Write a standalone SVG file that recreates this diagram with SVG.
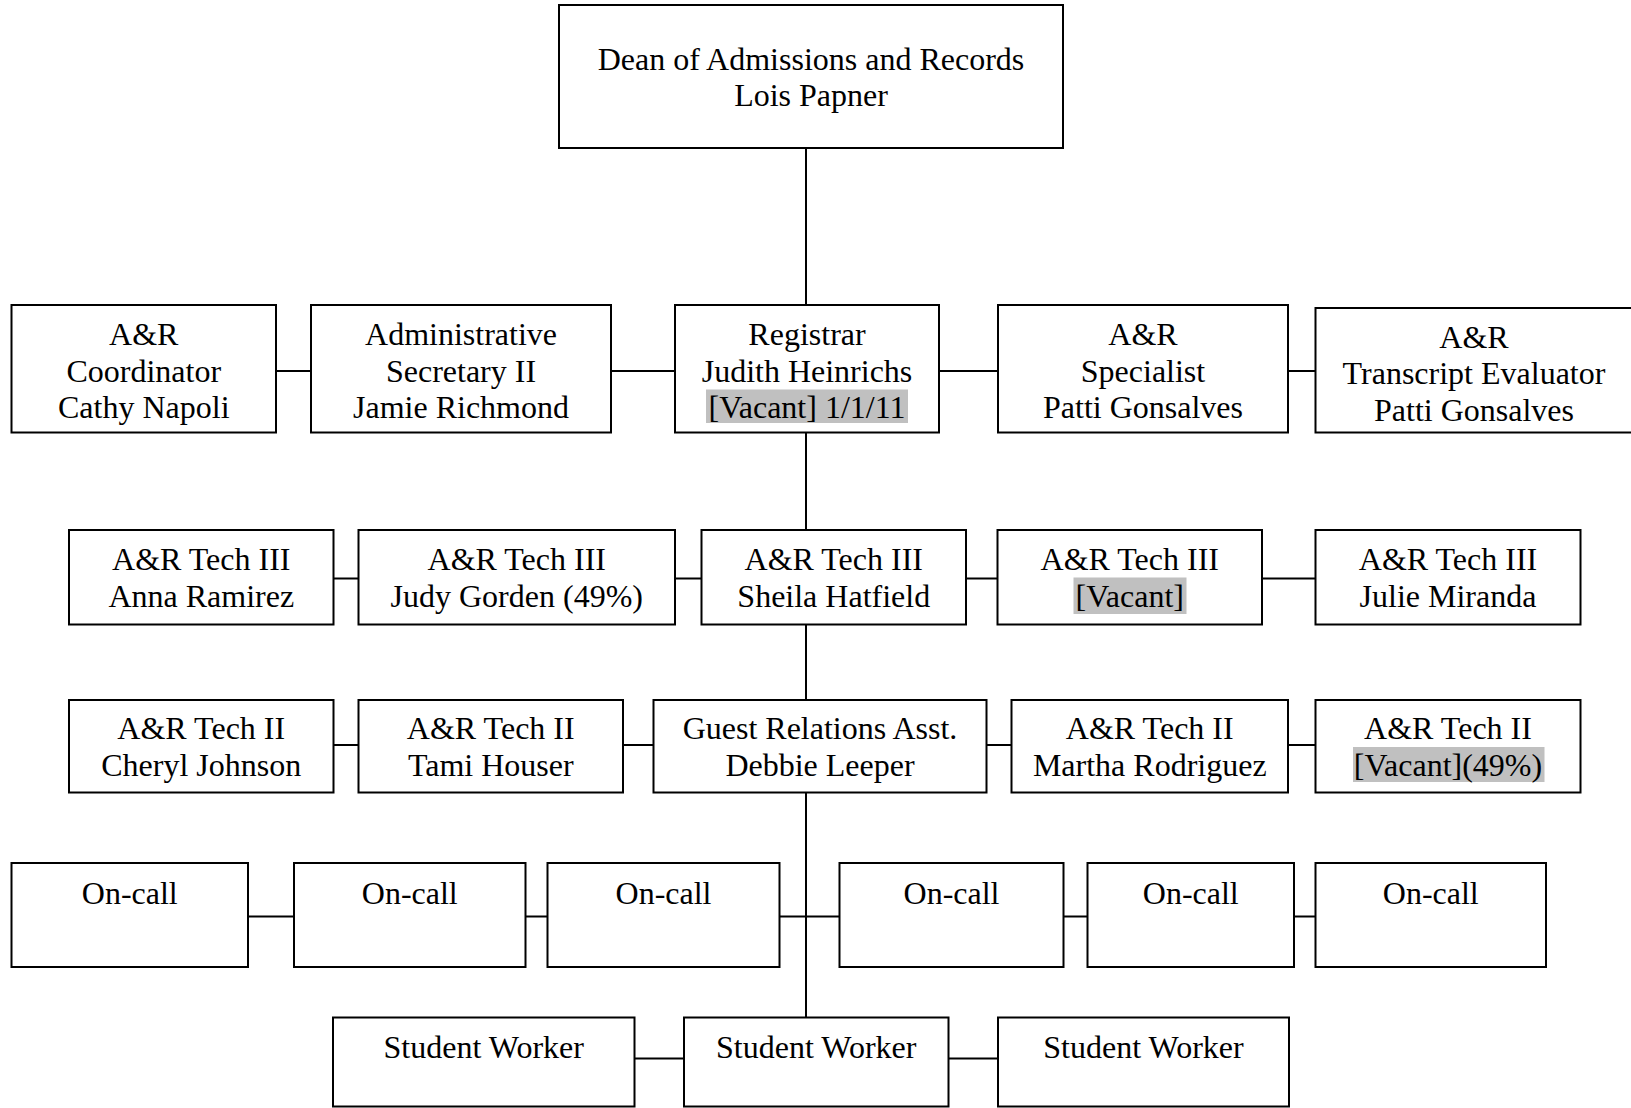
<svg xmlns="http://www.w3.org/2000/svg" width="1631" height="1108" viewBox="0 0 1631 1108">
<style>
  .box { fill: #ffffff; stroke: #000000; stroke-width: 2; }
  .hl { fill: #c0c0c0; stroke: none; }
  .lbl { font-family: "Liberation Serif", "Times New Roman", serif; font-size: 32px; fill: #000000; text-anchor: middle; }
  .conn line { stroke: #000000; stroke-width: 2; }
</style>
<rect width="1631" height="1108" fill="#ffffff"/>
<g id="connectors" class="conn">
  <line x1="806" y1="148" x2="806" y2="305"/>
  <line x1="806" y1="432.5" x2="806" y2="530"/>
  <line x1="806" y1="624.5" x2="806" y2="700"/>
  <line x1="806" y1="792.5" x2="806" y2="1017.5"/>
  <line x1="276" y1="371" x2="311" y2="371"/>
  <line x1="611" y1="371" x2="675" y2="371"/>
  <line x1="939" y1="371" x2="998" y2="371"/>
  <line x1="1288" y1="371" x2="1315.5" y2="371"/>
  <line x1="333.5" y1="578.5" x2="358.5" y2="578.5"/>
  <line x1="675" y1="578.5" x2="701.5" y2="578.5"/>
  <line x1="966" y1="578.5" x2="997.5" y2="578.5"/>
  <line x1="1262" y1="578.5" x2="1315.5" y2="578.5"/>
  <line x1="333.5" y1="745" x2="358.5" y2="745"/>
  <line x1="623" y1="745" x2="653.5" y2="745"/>
  <line x1="986.5" y1="745" x2="1011.5" y2="745"/>
  <line x1="1288" y1="745" x2="1315.5" y2="745"/>
  <line x1="248" y1="916.5" x2="294" y2="916.5"/>
  <line x1="525.5" y1="916.5" x2="547.5" y2="916.5"/>
  <line x1="779.5" y1="916.5" x2="839.5" y2="916.5"/>
  <line x1="1063.5" y1="916.5" x2="1087.5" y2="916.5"/>
  <line x1="1294" y1="916.5" x2="1315.5" y2="916.5"/>
  <line x1="634.5" y1="1058.5" x2="684" y2="1058.5"/>
  <line x1="948.5" y1="1058.5" x2="998" y2="1058.5"/>
</g>
<g id="dean">
  <rect class="box" x="559" y="5" width="504" height="143"/>
  <text class="lbl" x="811" y="70">Dean of Admissions and Records</text>
  <text class="lbl" x="811" y="106">Lois Papner</text>
</g>
<g id="coordinator">
  <rect class="box" x="11.5" y="305" width="264.5" height="127.5"/>
  <text class="lbl" x="143.75" y="345">A&amp;R</text>
  <text class="lbl" x="143.75" y="381.5">Coordinator</text>
  <text class="lbl" x="143.75" y="418">Cathy Napoli</text>
</g>
<g id="admin-secretary">
  <rect class="box" x="311" y="305" width="300" height="127.5"/>
  <text class="lbl" x="461" y="345">Administrative</text>
  <text class="lbl" x="461" y="381.5">Secretary II</text>
  <text class="lbl" x="461" y="418">Jamie Richmond</text>
</g>
<g id="registrar">
  <rect class="box" x="675" y="305" width="264" height="127.5"/>
  <rect class="hl" x="706" y="389.5" width="202" height="33.5"/>
  <text class="lbl" x="807" y="345">Registrar</text>
  <text class="lbl" x="807" y="381.5">Judith Heinrichs</text>
  <text class="lbl" x="807" y="418">[Vacant] 1/1/11</text>
</g>
<g id="specialist">
  <rect class="box" x="998" y="305" width="290" height="127.5"/>
  <text class="lbl" x="1143" y="345">A&amp;R</text>
  <text class="lbl" x="1143" y="381.5">Specialist</text>
  <text class="lbl" x="1143" y="418">Patti Gonsalves</text>
</g>
<g id="transcript-evaluator">
  <rect class="box" x="1315.5" y="308" width="318" height="124.5"/>
  <text class="lbl" x="1474" y="347.5">A&amp;R</text>
  <text class="lbl" x="1474" y="384">Transcript Evaluator</text>
  <text class="lbl" x="1474" y="420.5">Patti Gonsalves</text>
</g>
<g id="tech3-anna">
  <rect class="box" x="69" y="530" width="264.5" height="94.5"/>
  <text class="lbl" x="201.25" y="570">A&amp;R Tech III</text>
  <text class="lbl" x="201.25" y="606.5">Anna Ramirez</text>
</g>
<g id="tech3-judy">
  <rect class="box" x="358.5" y="530" width="316.5" height="94.5"/>
  <text class="lbl" x="516.75" y="570">A&amp;R Tech III</text>
  <text class="lbl" x="516.75" y="606.5">Judy Gorden (49%)</text>
</g>
<g id="tech3-sheila">
  <rect class="box" x="701.5" y="530" width="264.5" height="94.5"/>
  <text class="lbl" x="833.75" y="570">A&amp;R Tech III</text>
  <text class="lbl" x="833.75" y="606.5">Sheila Hatfield</text>
</g>
<g id="tech3-vacant">
  <rect class="box" x="997.5" y="530" width="264.5" height="94.5"/>
  <rect class="hl" x="1073.5" y="577.5" width="113" height="36.5"/>
  <text class="lbl" x="1129.75" y="570">A&amp;R Tech III</text>
  <text class="lbl" x="1129.75" y="606.5">[Vacant]</text>
</g>
<g id="tech3-julie">
  <rect class="box" x="1315.5" y="530" width="265" height="94.5"/>
  <text class="lbl" x="1448" y="570">A&amp;R Tech III</text>
  <text class="lbl" x="1448" y="606.5">Julie Miranda</text>
</g>
<g id="tech2-cheryl">
  <rect class="box" x="69" y="700" width="264.5" height="92.5"/>
  <text class="lbl" x="201.25" y="739">A&amp;R Tech II</text>
  <text class="lbl" x="201.25" y="775.5">Cheryl Johnson</text>
</g>
<g id="tech2-tami">
  <rect class="box" x="358.5" y="700" width="264.5" height="92.5"/>
  <text class="lbl" x="490.75" y="739">A&amp;R Tech II</text>
  <text class="lbl" x="490.75" y="775.5">Tami Houser</text>
</g>
<g id="guest-relations">
  <rect class="box" x="653.5" y="700" width="333" height="92.5"/>
  <text class="lbl" x="820" y="739">Guest Relations Asst.</text>
  <text class="lbl" x="820" y="775.5">Debbie Leeper</text>
</g>
<g id="tech2-martha">
  <rect class="box" x="1011.5" y="700" width="276.5" height="92.5"/>
  <text class="lbl" x="1149.75" y="739">A&amp;R Tech II</text>
  <text class="lbl" x="1149.75" y="775.5">Martha Rodriguez</text>
</g>
<g id="tech2-vacant">
  <rect class="box" x="1315.5" y="700" width="265" height="92.5"/>
  <rect class="hl" x="1353" y="747" width="191.5" height="35"/>
  <text class="lbl" x="1448" y="739">A&amp;R Tech II</text>
  <text class="lbl" x="1448" y="775.5">[Vacant](49%)</text>
</g>
<g id="oncall-1">
  <rect class="box" x="11.5" y="863" width="236.5" height="104"/>
  <text class="lbl" x="129.75" y="904">On-call</text>
</g>
<g id="oncall-2">
  <rect class="box" x="294" y="863" width="231.5" height="104"/>
  <text class="lbl" x="409.75" y="904">On-call</text>
</g>
<g id="oncall-3">
  <rect class="box" x="547.5" y="863" width="232" height="104"/>
  <text class="lbl" x="663.5" y="904">On-call</text>
</g>
<g id="oncall-4">
  <rect class="box" x="839.5" y="863" width="224" height="104"/>
  <text class="lbl" x="951.5" y="904">On-call</text>
</g>
<g id="oncall-5">
  <rect class="box" x="1087.5" y="863" width="206.5" height="104"/>
  <text class="lbl" x="1190.75" y="904">On-call</text>
</g>
<g id="oncall-6">
  <rect class="box" x="1315.5" y="863" width="230.5" height="104"/>
  <text class="lbl" x="1430.75" y="904">On-call</text>
</g>
<g id="student-1">
  <rect class="box" x="333" y="1017.5" width="301.5" height="89"/>
  <text class="lbl" x="483.75" y="1057.5">Student Worker</text>
</g>
<g id="student-2">
  <rect class="box" x="684" y="1017.5" width="264.5" height="89"/>
  <text class="lbl" x="816.25" y="1057.5">Student Worker</text>
</g>
<g id="student-3">
  <rect class="box" x="998" y="1017.5" width="291" height="89"/>
  <text class="lbl" x="1143.5" y="1057.5">Student Worker</text>
</g>
</svg>
